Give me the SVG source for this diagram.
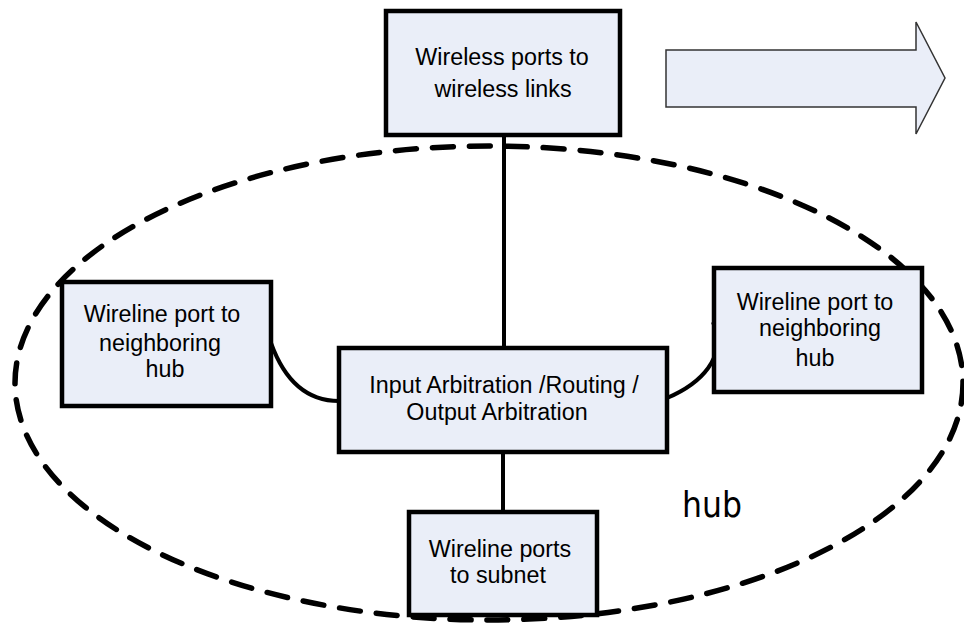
<svg xmlns="http://www.w3.org/2000/svg" width="964" height="632" viewBox="0 0 964 632">
  <style>
    .box { fill: #EAEEF8; stroke: #000; stroke-width: 4.5; }
    .lbl { font-family: "Liberation Sans", Arial, sans-serif; font-size: 23.3px; fill: #000; text-anchor: middle; }
    .conn { fill: none; stroke: #000; stroke-width: 4; }
    .hubring { fill: none; stroke: #000; stroke-width: 5.5; stroke-dasharray: 21 16; stroke-linecap: round; }
    .hublbl { font-family: "DejaVu Sans Condensed", "DejaVu Sans", sans-serif; font-size: 35px; fill: #000; }
  </style>
  <rect width="964" height="632" fill="#fff"/>

  <g id="hub-boundary">
    <ellipse class="hubring" cx="489" cy="383" rx="474" ry="237"/>
  </g>

  <g id="connectors">
    <line class="conn" x1="504" y1="137" x2="504" y2="348"/>
    <line class="conn" x1="503" y1="452" x2="503" y2="512"/>
    <path class="conn" d="M271,343 C285,382 308,401 339,401"/>
    <path class="conn" d="M667,398 C700,384 728,358 713,322"/>
  </g>

  <g id="arrow">
    <polygon points="666,50 916,50 916,22 945,78 916,134 916,107 666,107" fill="#EAEEF8" stroke="#333" stroke-width="1.5"/>
  </g>

  <g id="wireless-ports">
    <rect class="box" x="386" y="11" width="234" height="124"/>
    <text class="lbl" x="502" y="65">Wireless ports to</text>
    <text class="lbl" x="503" y="97">wireless links</text>
  </g>

  <g id="wireline-left">
    <rect class="box" x="62" y="282" width="209" height="124"/>
    <text class="lbl" x="162" y="322">Wireline port to</text>
    <text class="lbl" x="160" y="351">neighboring</text>
    <text class="lbl" x="165" y="377">hub</text>
  </g>

  <g id="wireline-right">
    <rect class="box" x="714" y="268" width="208" height="124"/>
    <text class="lbl" x="815" y="310">Wireline port to</text>
    <text class="lbl" x="820" y="336">neighboring</text>
    <text class="lbl" x="815" y="366">hub</text>
  </g>

  <g id="arbitration">
    <rect class="box" x="339" y="348" width="328" height="104"/>
    <text class="lbl" x="504" y="393">Input Arbitration /Routing /</text>
    <text class="lbl" x="497" y="420">Output Arbitration</text>
  </g>

  <g id="subnet-ports">
    <rect class="box" x="409" y="512" width="188" height="103"/>
    <text class="lbl" x="500" y="557">Wireline ports</text>
    <text class="lbl" x="498" y="583">to subnet</text>
  </g>

  <g id="hub-label">
    <text class="hublbl" x="682" y="517">hub</text>
  </g>
</svg>
